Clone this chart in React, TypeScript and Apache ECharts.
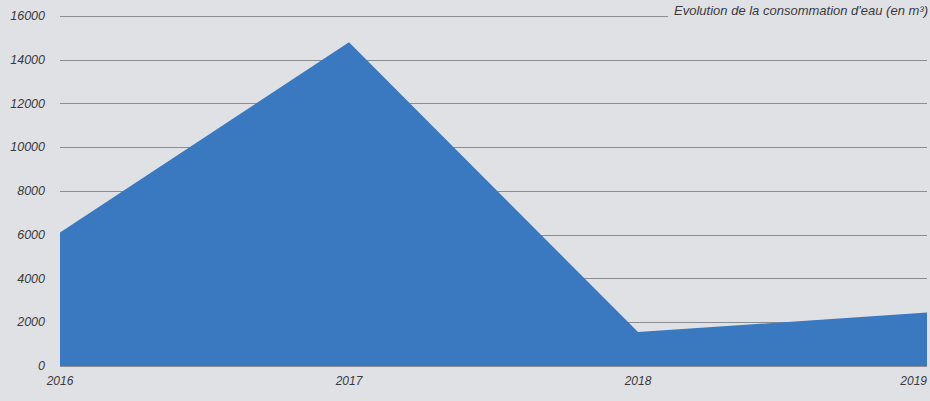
import React, { useEffect, useRef } from "react";
import * as echarts from "echarts";

const years = ["2016", "2017", "2018", "2019"];
const consumption = [6100, 14800, 1550, 2450];
const yTicks = [0, 2000, 4000, 6000, 8000, 10000, 12000, 14000, 16000];
const titleText = "Evolution de la consommation d'eau (en m³)";

const BG = "#e0e1e4";

export default function App() {
  const ref = useRef<HTMLDivElement>(null);
  useEffect(() => {
    document.body.style.margin = "0";
    if (!ref.current) return;
    const chart = echarts.init(ref.current, null, { renderer: "svg" });
    chart.setOption({
      animation: false,
      backgroundColor: BG,
      title: {
        text: titleText,
        right: 0,
        top: 3,
        padding: [1, 2, 1, 6],
        backgroundColor: BG,
        textStyle: {
          fontFamily: "Liberation Sans",
          fontStyle: "italic",
          fontWeight: "normal",
          fontSize: 13,
          color: "#3a3a3e",
        },
      },
      grid: { left: 60, right: 2, top: 16, bottom: 35 },
      xAxis: {
        type: "category",
        data: years,
        boundaryGap: false,
        axisLine: { show: false },
        axisTick: { show: false },
        axisLabel: {
          margin: 9,
          fontFamily: "Liberation Sans",
          fontStyle: "italic",
          fontSize: 12,
          color: "#3a3a3e",
          alignMaxLabel: "right",
        },
      },
      yAxis: {
        type: "value",
        min: yTicks[0],
        max: yTicks[yTicks.length - 1],
        interval: 2000,
        axisLine: { show: false },
        axisTick: { show: false },
        axisLabel: {
          margin: 15,
          fontFamily: "Liberation Sans",
          fontStyle: "italic",
          fontSize: 12.5,
          color: "#3a3a3e",
          formatter: (v: number) => String(v),
        },
        splitLine: { lineStyle: { color: "#8c8d92", width: 1 } },
      },
      series: [
        {
          type: "line",
          data: consumption,
          symbol: "none",
          lineStyle: { width: 0 },
          areaStyle: { color: "#3a78c0", opacity: 1 },
          z: 3,
        },
      ],
    });
    return () => chart.dispose();
  }, []);
  return <div ref={ref} style={{ width: 930, height: 401 }} />;
}
